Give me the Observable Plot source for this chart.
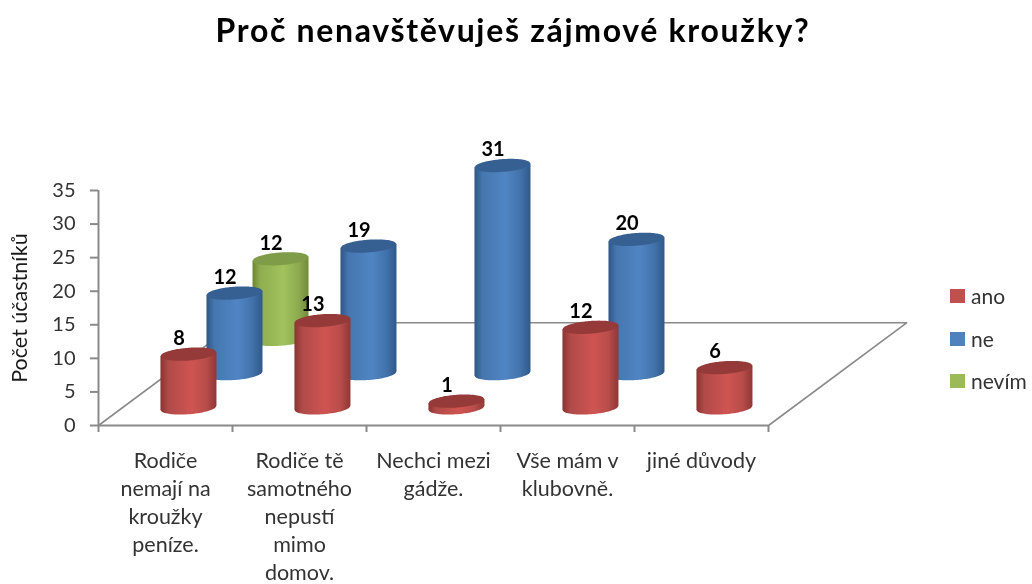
<!DOCTYPE html>
<html lang="cs">
<head>
<meta charset="utf-8">
<title>Proč nenavštěvuješ zájmové kroužky?</title>
<script src="https://cdn.jsdelivr.net/npm/d3@7"></script>
<script src="https://cdn.jsdelivr.net/npm/@observablehq/plot@0.6"></script>
<style>
  html, body { margin: 0; padding: 0; background: #fff; overflow: hidden; }
  #wrap { position: relative; width: 1032px; height: 584px; font-family: Lato, sans-serif; filter: blur(0.4px); }
  #title { height: 60px; line-height: 60px; text-align: center; font-size: 32px; font-weight: 700; color: #000; letter-spacing: 1.68px; padding-right: 6px; box-sizing: border-box; }
  #legend { position: absolute; left: 950px; top: 282px; font-size: 21px; color: #333; }
  #legend div { height: 42.5px; display: flex; align-items: flex-start; line-height: 28px; }
  #legend i { display: block; width: 15px; height: 14px; margin: 7px 6px 0 0; }
  svg { display: block; }
</style>
</head>
<body>
<div id="wrap">
  <div id="title">Proč nenavštěvuješ zájmové kroužky?</div>
  <div id="chart"></div>
  <div id="legend"></div>
</div>
<script>
const categories = ["Rodiče\nnemají na\nkroužky\npeníze.", "Rodiče tě\nsamotného\nnepustí\nmimo\ndomov.", "Nechci mezi\ngádže.", "Vše mám v\nklubovně.", "jiné důvody"];
const seriesNames = ["ano", "ne", "nevím"];
const ano = [8, 13, 1, 12, 6];
const ne = [12, 19, 31, 20, null];
const nevim = [12, null, null, null, null];
const seriesValues = [ano, ne, nevim];
const yTicks = [0, 5, 10, 15, 20, 25, 30, 35];
const swatch = ["#c0504d", "#4f81bd", "#9bbb59"];
const topFill = ["#953a38", "#376092", "#7f9c48"];
const shades = [
  ["#8a3432", "#b04a48", "#cf5451", "#b84d4a", "#8f3735"],
  ["#2f5684", "#4576ae", "#5085c4", "#4272aa", "#30598a"],
  ["#6d8636", "#8fae50", "#a1c25d", "#8dab4f", "#718a3a"]
];

// oblique projection of the 3D chart: a row moves right and up the value axis
const rowStepX = 0.3435, rowStepY = 5.1, rowStartX = 0.175, rowStartY = 2.55;
const radiusX = 0.209, radiusY = 0.95, tilt = 0.3;
const rowX = (d) => rowStartX + rowStepX * d;
const rowY = (d) => rowStartY + rowStepY * d;
const arc = d3.range(-20, 21).map((k) => k / 20);

const bars = seriesValues.flatMap((vals, d) => vals.map((v, i) => v == null ? null : ({
  id: `${d}-${i}`, row: d, value: v, cx: i + 0.5 + rowX(d), base: rowY(d), top: rowY(d) + v
})).filter(Boolean));

const body = bars.flatMap((b) => arc.map((t) => ({
  id: b.id, row: b.row, x: b.cx + radiusX * t,
  y1: b.base + tilt * t - radiusY * Math.sqrt(1 - t * t), y2: b.top + tilt * t
})));
const cap = bars.flatMap((b) => arc.map((t) => ({
  id: b.id, row: b.row, x: b.cx + radiusX * t,
  y1: b.top + tilt * t - radiusY * Math.sqrt(1 - t * t), y2: b.top + tilt * t + radiusY * Math.sqrt(1 - t * t)
})));

const floorDepthX = rowX(2.5) - rowX(-0.5), floorDepthY = rowStepY * 3;
const floor = [
  {x: 0, y: 0}, {x: floorDepthX, y: floorDepthY},
  {x: 5 + floorDepthX, y: floorDepthY}, {x: 5, y: 0}
];

const gradients = () => {
  const defs = d3.create("svg:defs");
  shades.forEach((s, d) => {
    const g = defs.append("linearGradient").attr("id", `cyl${d}`).attr("x1", 0).attr("x2", 1).attr("y1", 0).attr("y2", 0);
    [0, 0.14, 0.55, 0.82, 1].forEach((o, k) => g.append("stop").attr("offset", o).attr("stop-color", s[k]));
  });
  return defs.node();
};

const gray = "#8a8a8a";
const cylinders = [2, 1, 0].flatMap((d) => [
  Plot.area(body.filter((p) => p.row === d), {x1: "x", y1: "y1", y2: "y2", z: "id", fill: `url(#cyl${d})`, curve: "linear"}),
  Plot.area(cap.filter((p) => p.row === d), {x1: "x", y1: "y1", y2: "y2", z: "id", fill: topFill[d], curve: "linear"})
]);

const plot = Plot.plot({
  width: 1032,
  height: 524,
  marginLeft: 98,
  marginRight: 264,
  marginTop: 130,
  marginBottom: 159,
  style: {background: "transparent", fontFamily: "Lato, sans-serif", fontSize: "20px", overflow: "visible"},
  x: {domain: [0, 5]},
  y: {domain: [0, 35]},
  marks: [
    gradients,
    Plot.line(floor, {x: "x", y: "y", stroke: gray, strokeWidth: 1.6}),
    Plot.axisY({
      ticks: yTicks, tickSize: 8, tickPadding: 15, stroke: gray, strokeWidth: 2, fill: "#333", fontSize: 20, label: null
    }),
    Plot.axisY({
      ticks: [], tickSize: 0, fill: "#1a1a1a", fontSize: 21.5,
      label: "Počet účastníků", labelAnchor: "center", labelArrow: "none", labelOffset: 87
    }),
    Plot.axisX({ticks: [0, 1, 2, 3, 4, 5], tickSize: 7, stroke: gray, strokeWidth: 2, tickFormat: () => "", label: null}),
    Plot.ruleX([0], {y1: 0, y2: 35, stroke: gray, strokeWidth: 2}),
    Plot.ruleY([0], {x1: 0, x2: 5, stroke: gray, strokeWidth: 2}),
    ...cylinders,
    Plot.text(bars, {x: "cx", y: "top", text: (b) => String(b.value), dx: -10, dy: -16, fontSize: 20, fontWeight: 700, fill: "#000"}),
    Plot.text(categories, {x: (c, i) => i + 0.5, y: () => 0, text: (c) => c, dy: 22, lineAnchor: "top", lineHeight: 1.31, fontSize: 21.5, fill: "#333"})
  ]
});
document.getElementById("chart").append(plot);

const legend = document.getElementById("legend");
seriesNames.forEach((name, i) => {
  const row = document.createElement("div");
  const box = document.createElement("i");
  box.style.background = swatch[i];
  row.append(box, document.createTextNode(name));
  legend.append(row);
});
</script>
</body>
</html>
